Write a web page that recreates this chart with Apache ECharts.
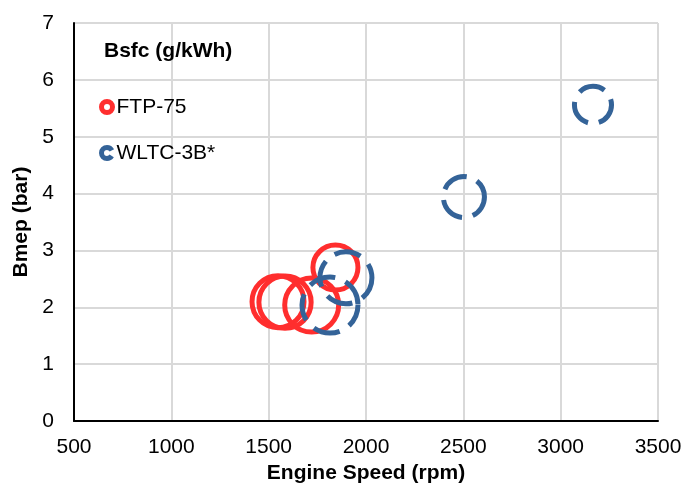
<!DOCTYPE html>
<html>
<head>
<meta charset="utf-8">
<script src="https://cdn.jsdelivr.net/npm/echarts@6/dist/echarts.min.js"></script>
<style>
  html, body { margin: 0; padding: 0; background: #fff; }
  #chart { width: 698px; height: 489px; }
</style>
</head>
<body>
<div id="chart"></div>
<script>
// Operating points: engine speed (rpm), Bmep (bar), Bsfc (g/kWh) as bubble size
const ftpSpeed = [1548, 1584, 1721, 1843];
const ftpBmep  = [2.10, 2.09, 2.04, 2.70];
const ftpBsfc  = [390, 392, 405, 338];

const wltcSpeed = [1815, 1897, 2503, 3166];
const wltcBmep  = [2.04, 2.52, 3.94, 5.56];
const wltcBsfc  = [420, 390, 308, 278];

const seriesNames = ['FTP-75', 'WLTC-3B*'];
const sizeTitle = 'Bsfc (g/kWh)';
const xTicks = { min: 500, max: 3500, step: 500 };
const yTicks = { min: 0, max: 7, step: 1 };

// bubble diameter proportional to Bsfc
const SIZE_PER_UNIT = 0.1333;
const toPoints = (xs, ys, ss) => xs.map((x, i) => [x, ys[i], ss[i]]);

const RED = '#ff2e2e';
const BLUE = '#346398';
const FONT = '"Liberation Sans", Arial, sans-serif';
const FS = 21;

const chart = echarts.init(document.getElementById('chart'), null, { renderer: 'canvas' });

chart.setOption({
  animation: false,
  backgroundColor: '#fff',
  textStyle: { fontFamily: FONT },
  title: {
    text: sizeTitle,
    left: 104,
    top: 41,
    padding: 0,
    textStyle: { fontFamily: FONT, fontSize: FS, fontWeight: 'bold', color: '#000' }
  },
  legend: {
    orient: 'vertical',
    left: 99,
    top: 96,
    padding: 0,
    itemWidth: 11,
    itemHeight: 11,
    itemGap: 24,
    textStyle: { fontFamily: FONT, fontSize: FS, color: '#000', lineHeight: 22, padding: [0, 0, 0, -1] },
    data: [
      { name: seriesNames[0], icon: 'circle',
        itemStyle: { color: '#fff', borderColor: RED, borderWidth: 5, borderType: 'solid' } },
      { name: seriesNames[1], icon: 'circle',
        itemStyle: { color: '#fff', borderColor: BLUE, borderWidth: 5, borderType: [28, 5], borderDashOffset: 30 } }
    ]
  },
  grid: { left: 74, right: 40, top: 23, bottom: 67, containLabel: false },
  xAxis: {
    type: 'value',
    min: xTicks.min, max: xTicks.max, interval: xTicks.step,
    name: 'Engine Speed (rpm)',
    nameLocation: 'middle',
    nameGap: 30,
    nameTextStyle: { fontFamily: FONT, fontSize: FS, fontWeight: 'bold', color: '#000' },
    axisLine: { show: true, onZero: false, lineStyle: { color: '#000', width: 2 } },
    axisTick: { show: false },
    axisLabel: { margin: 16, fontFamily: FONT, fontSize: FS, color: '#000', formatter: v => String(v) },
    splitLine: { show: true, lineStyle: { color: '#d9d9d9', width: 2 } }
  },
  yAxis: {
    type: 'value',
    min: yTicks.min, max: yTicks.max, interval: yTicks.step,
    name: 'Bmep (bar)',
    nameLocation: 'middle',
    nameGap: 38,
    nameTextStyle: { fontFamily: FONT, fontSize: FS, fontWeight: 'bold', color: '#000' },
    axisLine: { show: true, onZero: false, lineStyle: { color: '#000', width: 2 } },
    axisTick: { show: false },
    axisLabel: { margin: 20, fontFamily: FONT, fontSize: FS, color: '#000', formatter: v => String(v) },
    splitLine: { show: true, lineStyle: { color: '#d9d9d9', width: 2 } }
  },
  series: [
    {
      name: seriesNames[0],
      type: 'scatter',
      symbol: 'circle',
      data: toPoints(ftpSpeed, ftpBmep, ftpBsfc),
      symbolSize: d => d[2] * SIZE_PER_UNIT,
      itemStyle: { color: 'rgba(0,0,0,0)', borderColor: RED, borderWidth: 5, opacity: 1 },
      emphasis: { disabled: true },
      z: 2
    },
    {
      name: seriesNames[1],
      type: 'scatter',
      symbol: 'circle',
      data: toPoints(wltcSpeed, wltcBmep, wltcBsfc),
      symbolSize: d => d[2] * SIZE_PER_UNIT,
      itemStyle: { color: 'rgba(0,0,0,0)', borderColor: BLUE, borderWidth: 5,
                   borderType: [27, 11], borderDashOffset: 4, opacity: 1 },
      emphasis: { disabled: true },
      z: 3
    }
  ]
});
</script>
</body>
</html>
